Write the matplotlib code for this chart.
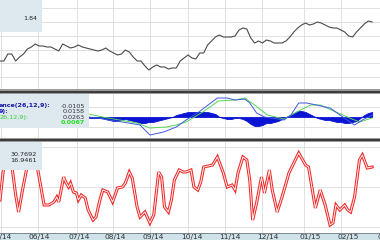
import matplotlib
matplotlib.use('Agg')
import matplotlib.pyplot as plt
from matplotlib.patches import Rectangle
import numpy as np

W, H = 380, 240

# ---- data ----
# price, one value every 2 bars (bar 0 .. 190)
price = [1.69, 1.69, 1.76, 1.76, 1.69, 1.73, 1.76, 1.81, 1.83, 1.86,
         1.84, 1.84, 1.83, 1.83, 1.81, 1.79, 1.86, 1.84, 1.82, 1.83,
         1.85, 1.83, 1.82, 1.81, 1.80, 1.79, 1.80, 1.82, 1.79, 1.77,
         1.75, 1.76, 1.80, 1.78, 1.73, 1.69, 1.69, 1.64, 1.60, 1.63,
         1.65, 1.63, 1.63, 1.61, 1.62, 1.62, 1.69, 1.72, 1.75, 1.72,
         1.71, 1.77, 1.77, 1.85, 1.89, 1.93, 1.95, 1.93, 1.93, 1.93,
         1.94, 2.00, 2.02, 2.01, 1.92, 1.87, 1.89, 1.87, 1.90, 1.89,
         1.87, 1.87, 1.87, 1.89, 1.93, 1.98, 2.02, 2.05, 2.07, 2.05,
         2.06, 2.08, 2.07, 2.05, 2.03, 2.02, 2.02, 2.00, 1.98, 1.94,
         1.93, 1.98, 2.02, 2.06, 2.09, 2.08]
price_bar = np.arange(0, 192, 2)

# MACD line
macd_bar = [45, 50, 55, 62.5, 71.5, 76.5, 83.5, 90, 95, 101.5, 111, 116, 120, 125,
            127.5, 131, 135, 145, 148.5, 152.5, 156.5, 161.5, 168.5, 175, 181, 185, 190]
macd = [0.000, -0.002, -0.006, -0.010, -0.016, -0.036, -0.030, -0.020, -0.006, 0.010,
        0.038, 0.038, 0.034, 0.036, 0.028, 0.008, 0.000, -0.006, 0.004, 0.028,
        0.028, 0.024, 0.018, 0.000, -0.016, -0.006, 0.004]

# signal line
signal_bar = [45, 55, 70, 76.5, 85, 90, 95, 103.5, 111.5, 120, 125, 130, 136.5,
              145, 151.5, 158.5, 163.5, 171.5, 178.5, 183.5, 190]
signal = [0.006, -0.002, -0.012, -0.022, -0.020, -0.016, -0.010, 0.010, 0.032, 0.034,
          0.038, 0.024, 0.004, -0.004, 0.010, 0.024, 0.024, 0.010, -0.002, -0.010, -0.002]

# histogram, one value every 2 bars from bar 44
hist = [0, -0.002, -0.002, -0.002, -0.002, -0.004, -0.006, -0.008, -0.008, -0.006,
        -0.004, -0.006, -0.008, -0.010, -0.012, -0.012, -0.010, -0.010, -0.008, -0.006,
        -0.004, -0.002, 0, 0.004, 0.006, 0.008, 0.010, 0.010, 0.010, 0.010,
        0.010, 0.010, 0.008, 0.006, 0, -0.002, -0.004, -0.004, -0.002, -0.002,
        -0.004, -0.008, -0.014, -0.018, -0.018, -0.016, -0.012, -0.012, -0.010, -0.008,
        -0.004, 0, 0.004, 0.008, 0.012, 0.012, 0.010, 0.006, 0.002, -0.002,
        -0.004, -0.006, -0.006, -0.008, -0.010, -0.010, -0.012, -0.012, -0.010, -0.008,
        -0.002, 0.004, 0.008, 0.010]
hist_bar = np.arange(44, 44 + 2 * len(hist), 2)

# oscillator
osc_bar = [0, 2, 4, 6, 8, 9.5, 11.5, 13.5, 15.5, 17.5, 19.5, 22.5, 25, 27.5, 29, 30,
           32.5, 33.5, 35, 36, 37.5, 39, 40, 41.5, 43.5, 45, 47.5, 49, 51, 52.5, 55,
           57.5, 60, 62.5, 64, 66, 67.5, 70, 71.5, 74, 76.5, 78.5, 81, 82.5, 84, 86,
           87.5, 89, 91.5, 93.5, 95, 97.5, 99, 101, 102.5, 104, 108.5, 111, 114, 116,
           118.5, 120, 121.5, 124, 126, 127.5, 129, 131, 133.5, 135, 137.5, 139, 141.5,
           144, 147.5, 150, 152.5, 156, 157.5, 161, 163.5, 166, 168.5, 170, 171.5,
           173.5, 176, 177.5, 179, 181, 183.5, 185, 187.5, 190]
osc = [35, 70, 85, 70, 40, 23, 45, 65, 80, 85, 63, 30, 30, 33, 38, 33,
       58, 53, 48, 52, 43, 42, 35, 40, 37, 25, 15, 18, 35, 45, 43,
       33, 47, 48, 52, 63, 57, 28, 18, 23, 12, 20, 63, 58, 28, 23,
       35, 55, 65, 63, 63, 65, 48, 45, 53, 68, 70, 78, 62, 48,
       50, 45, 62, 78, 75, 55, 15, 32, 58, 42, 65, 45, 23,
       38, 62, 72, 82, 70, 68, 27, 45, 30, 10, 12, 30,
       25, 30, 25, 23, 38, 75, 80, 67, 68]

month_bar = [0.75, 19.5, 39.5, 57.5, 76.5, 96, 115, 134, 155, 174, 194]
month_labels = ['05/14', '06/14', '07/14', '08/14', '09/14', '10/14',
                '11/14', '12/14', '01/15', '02/15', '03/15']

price_grid = [1.53, 1.67, 1.80, 1.94, 2.08, 2.22]
macd_grid = [-0.020, 0.020]
osc_grid = [8, 48, 88]


def px_box(x0, y0, x1, y1):
    return [x0 / W, 1 - y1 / H, (x1 - x0) / W, (y1 - y0) / H]


def fx(x):
    return x / W


def fy(y):
    return 1 - y / H


def setup(ax, ygrid):
    ax.set_xlim(0, 190)
    ax.set_xticks(month_bar)
    ax.set_yticks(ygrid)
    ax.grid(True, color='#dcdcdc', lw=0.6)
    ax.tick_params(length=0, labelbottom=False, labelleft=False)
    for s in ax.spines.values():
        s.set_visible(False)
    ax.set_axisbelow(True)


fig = plt.figure(figsize=(3.8, 2.4), dpi=100)

# price panel
ax1 = fig.add_axes(px_box(0, 0, 380, 90))
setup(ax1, price_grid)
ax1.plot(price_bar, price, color='#4a4a4a', lw=0.8)
ax1.set_ylim(1.40, 2.30)

# MACD panel
ax2 = fig.add_axes(px_box(0, 93, 380, 138))
setup(ax2, macd_grid)
ax2.fill_between(hist_bar, 0, hist, color='#0a14d2', lw=0.6)
ax2.plot(signal_bar, signal, color='#55d655', lw=0.7)
ax2.plot(macd_bar, macd, color='#4058e0', lw=0.7)
ax2.set_ylim(-0.042, 0.048)

# oscillator panel
ax3 = fig.add_axes(px_box(0, 141, 380, 233))
setup(ax3, osc_grid)
ax3.plot(osc_bar, osc, color='#f02828', lw=2.2, solid_joinstyle='miter')
ax3.plot(osc_bar, osc, color='#fff4f4', lw=0.7)
ax3.set_ylim(2, 94)


def rect(x0, y0, x1, y1, color, z=5):
    fig.add_artist(Rectangle((fx(x0), fy(y1)), (x1 - x0) / W, (y1 - y0) / H,
                             transform=fig.transFigure, color=color, lw=0, zorder=z))


# separators
for y0 in (89.5, 137.5):
    rect(0, y0, 380, y0 + 4, '#9a9a9a')
    rect(0, y0 + 1, 380, y0 + 3, '#3c3c3c')

# info boxes
box_col = '#dde9ee'
rect(0, 0, 42, 32, box_col)
rect(0, 94, 89, 128, box_col)
rect(0, 141.5, 42, 170, box_col)

fs = 4.6
fig.text(fx(37), fy(19), '1.84', fontsize=fs, ha='right', va='center', color='#222222', zorder=6)

fig.text(fx(-1), fy(106), 'ance(26,12,9):', fontsize=fs, ha='left', va='center',
         color='#1a1aa8', weight='bold', zorder=6)
fig.text(fx(-1), fy(111.5), '9):', fontsize=fs, ha='left', va='center',
         color='#1a1aa8', weight='bold', zorder=6)
fig.text(fx(0), fy(117), '26,12,9):', fontsize=fs, ha='left', va='center',
         color='#33cc33', zorder=6)
macd_vals = ['-0.0105', '0.0158', '0.0263', '0.0067']
val_cols = ['#333333', '#333333', '#333333', '#22dd22']
for i, (v, c) in enumerate(zip(macd_vals, val_cols)):
    fig.text(fx(85), fy(106 + 5.6 * i), v, fontsize=fs, ha='right', va='center',
             color=c, zorder=6, weight='bold' if i == 3 else 'normal')

fig.text(fx(37), fy(155), '30.7692', fontsize=fs, ha='right', va='center', color='#222222', zorder=6)
fig.text(fx(37), fy(160.5), '16.9461', fontsize=fs, ha='right', va='center', color='#222222', zorder=6)

# date strip
rect(0, 233, 380, 240, '#cfe2ea')
rect(0, 232.5, 380, 233.5, '#7a8a90')
for b, lab in zip(month_bar, month_labels):
    fig.text(fx(b * 2), fy(234.2), lab, fontsize=5.4, ha='center', va='top',
             color='#333333', zorder=6)

fig.savefig('out.png', dpi=100)
